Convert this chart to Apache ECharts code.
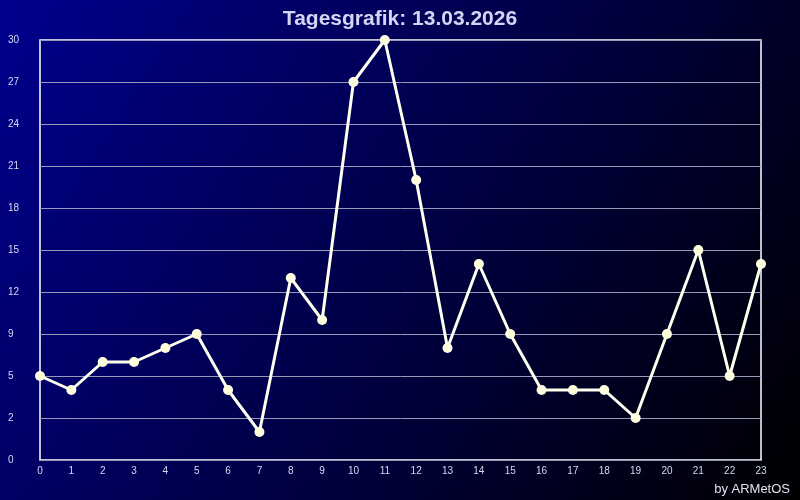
<!DOCTYPE html>
<html><head><meta charset="utf-8">
<script src="https://cdn.jsdelivr.net/npm/echarts@6/dist/echarts.min.js"></script>
<style>html,body{margin:0;padding:0;background:#000;}#c{width:800px;height:500px;}</style>
</head><body><div id="c"></div>
<script>
const hours = ['0','1','2','3','4','5','6','7','8','9','10','11','12','13','14','15','16','17','18','19','20','21','22','23'];
const values = [6,5,7,7,8,9,5,2,13,10,27,30,20,8,14,9,5,5,5,3,9,15,6,14];
const yTickValues = [0,3,6,9,12,15,18,21,24,27,30];
const yTickLabels = ['0','2','5','9','12','15','18','21','24','27','30'];
const titleText = 'Tagesgrafik: 13.03.2026';
const creditText = 'by ARMetOS';

const chart = echarts.init(document.getElementById('c'), null, {renderer:'canvas'});
chart.setOption({
  animation:false,
  backgroundColor:{type:'linear',x:0,y:0,x2:1,y2:1,colorStops:[{offset:0,color:'#00008e'},{offset:0.55,color:'#000040'},{offset:1,color:'#000000'}]},
  title:{text:titleText,left:'center',top:4,textStyle:{color:'#d4d4f4',fontSize:21,fontWeight:'bold',fontFamily:'Liberation Sans'}},
  graphic:[{type:'text',right:10,bottom:4,style:{text:creditText,fill:'#e0e0f0',font:'13px "Liberation Sans"'}}],
  grid:{left:40,right:39,top:40,bottom:40,show:true,borderColor:'#ffffff',borderWidth:1.5,backgroundColor:'transparent'},
  xAxis:{type:'category',data:hours,boundaryGap:false,
    axisLine:{show:false},axisTick:{show:false},
    axisLabel:{color:'#d8d8f0',fontSize:10,fontFamily:'Liberation Sans',margin:6,interval:0},
    splitLine:{show:false}},
  yAxis:{type:'value',min:0,max:30,interval:3,
    axisLine:{show:false},axisTick:{show:false},
    axisLabel:{color:'#d8d8f0',fontSize:10,fontFamily:'Liberation Sans',margin:32,align:'left',
      formatter:function(v){const i=yTickValues.indexOf(Math.round(v));return i>=0?yTickLabels[i]:'';}},
    splitLine:{show:true,lineStyle:{color:'#9898b8',width:1}}},
  series:[{type:'line',data:values,symbol:'circle',symbolSize:10,
    lineStyle:{color:'#fffff0',width:3},itemStyle:{color:'#ffffe0'}}]
});
</script></body></html>
